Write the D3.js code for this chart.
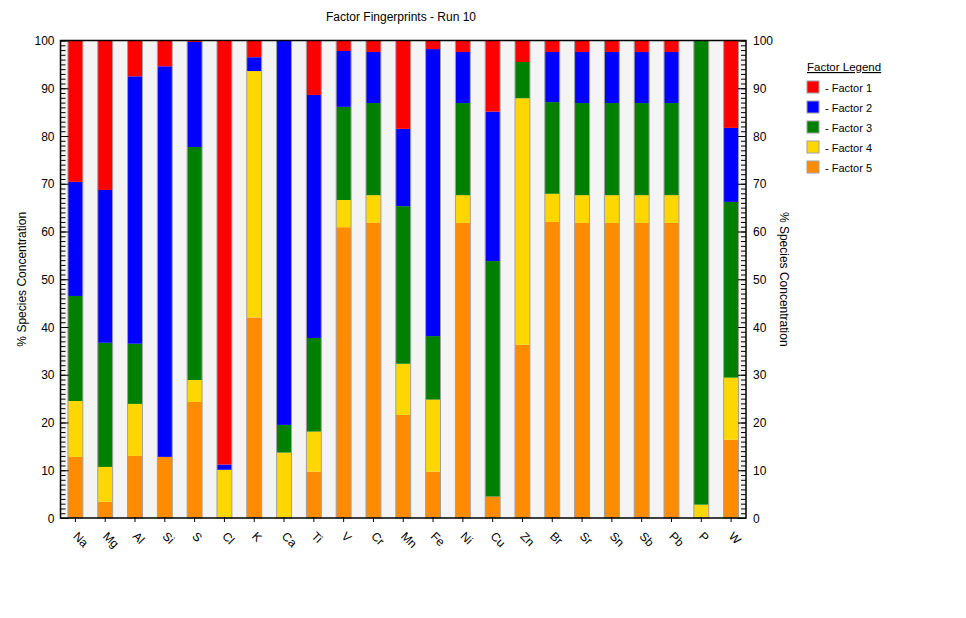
<!DOCTYPE html>
<html>
<head>
<meta charset="utf-8">
<script src="https://cdn.jsdelivr.net/npm/d3@7"></script>
<style>
  body { margin: 0; background: #fff; }
  text { font-family: "Liberation Sans", Arial, sans-serif; }
</style>
</head>
<body>
<svg id="chart"></svg>
<script>
// species along the x axis
var species = ["Na", "Mg", "Al", "Si", "S", "Cl", "K", "Ca", "Ti", "V", "Cr", "Mn", "Fe", "Ni", "Cu", "Zn", "Br", "Sr", "Sn", "Sb", "Pb", "P", "W"]
// % of species per factor
var factor1 = [29.6, 31.3, 7.5, 5.4, 0.3, 88.8, 3.5, 0, 11.4, 2.2, 2.4, 18.5, 1.8, 2.4, 14.9, 4.5, 2.4, 2.4, 2.4, 2.4, 2.4, 0, 18.3]
var factor2 = [23.9, 32.0, 56.0, 81.8, 22.0, 1.1, 2.9, 80.5, 50.9, 11.7, 10.7, 16.2, 60.1, 10.7, 31.3, 0, 10.5, 10.7, 10.7, 10.7, 10.7, 0, 15.5]
var factor3 = [22.0, 26.0, 12.6, 0, 48.8, 0, 0, 5.8, 19.6, 19.5, 19.3, 33.0, 13.3, 19.3, 49.3, 7.6, 19.2, 19.3, 19.3, 19.3, 19.3, 97.2, 36.8]
var factor4 = [11.7, 7.3, 10.9, 0, 4.6, 10.1, 51.6, 13.7, 8.4, 5.7, 5.8, 10.7, 15.1, 5.8, 0, 51.6, 5.9, 5.8, 5.8, 5.8, 5.8, 2.8, 13.0]
var factor5 = [12.8, 3.4, 13.0, 12.8, 24.3, 0, 42.0, 0, 9.7, 60.9, 61.8, 21.6, 9.7, 61.8, 4.5, 36.3, 62.0, 61.8, 61.8, 61.8, 61.8, 0, 16.4]
var factorNames = ["Factor 1", "Factor 2", "Factor 3", "Factor 4", "Factor 5"]
var factorColors = ["#ff0000", "#0000ff", "#008000", "#ffd700", "#ff8c00"]
var yTicks = [0, 10, 20, 30, 40, 50, 60, 70, 80, 90, 100]

var width = 966, height = 618
var plotLeft = 60.5, plotRight = 746, plotTop = 40.5, plotBottom = 518

var svg = d3.select("#chart").attr("width", width).attr("height", height)

// table for the stack, factor 5 at the bottom
var rows = species.map(function (s, i) {
    return { name: s, f5: factor5[i], f4: factor4[i], f3: factor3[i], f2: factor2[i], f1: factor1[i] }
})
var keys = ["f5", "f4", "f3", "f2", "f1"]
var keyColor = { f1: factorColors[0], f2: factorColors[1], f3: factorColors[2], f4: factorColors[3], f5: factorColors[4] }
var series = d3.stack().keys(keys)(rows)

var x = d3.scaleBand().domain(species).range([plotLeft, plotRight]).paddingInner(0.5).paddingOuter(0.25)
var y = d3.scaleLinear().domain([0, 100]).range([plotBottom, plotTop])

// plot background
svg.append("rect")
    .attr("x", plotLeft).attr("y", plotTop)
    .attr("width", plotRight - plotLeft).attr("height", plotBottom - plotTop)
    .attr("fill", "#f4f4f4")

// stacked segments
svg.append("g").selectAll("g")
    .data(series)
    .enter().append("g")
    .attr("fill", function (d) { return keyColor[d.key] })
    .selectAll("rect")
    .data(function (d) { return d })
    .enter().append("rect")
    .attr("x", function (d) { return x(d.data.name) })
    .attr("width", x.bandwidth())
    .attr("y", function (d) { return y(d[1]) })
    .attr("height", function (d) { return y(d[0]) - y(d[1]) })

// grey bar outlines
svg.append("g").selectAll("rect")
    .data(species)
    .enter().append("rect")
    .attr("x", function (d) { return x(d) })
    .attr("width", x.bandwidth())
    .attr("y", y(100))
    .attr("height", y(0) - y(100))
    .attr("fill", "none")
    .attr("stroke", "#a0a0a0")
    .attr("stroke-width", 1)

// minor ticks every 1 unit, inside the frame
var minor = d3.range(0, 101)
svg.append("g").attr("transform", "translate(" + plotLeft + ",0)")
    .call(d3.axisRight(y).tickValues(minor).tickSize(5).tickFormat(""))
svg.append("g").attr("transform", "translate(" + plotRight + ",0)")
    .call(d3.axisLeft(y).tickValues(minor).tickSize(5).tickFormat(""))
svg.append("g").attr("transform", "translate(" + plotLeft + ",0)")
    .call(d3.axisRight(y).tickValues(yTicks).tickSize(8).tickFormat(""))
svg.append("g").attr("transform", "translate(" + plotRight + ",0)")
    .call(d3.axisLeft(y).tickValues(yTicks).tickSize(8).tickFormat(""))
svg.selectAll(".domain").remove()
svg.selectAll(".tick line").attr("stroke", "#000")

// tick labels
svg.append("g").selectAll("text")
    .data(yTicks)
    .enter().append("text")
    .attr("x", plotLeft - 6).attr("y", function (d) { return y(d) + 4.5 })
    .attr("text-anchor", "end").attr("font-size", 12)
    .text(function (d) { return d })
svg.append("g").selectAll("text")
    .data(yTicks)
    .enter().append("text")
    .attr("x", plotRight + 7).attr("y", function (d) { return y(d) + 4.5 })
    .attr("text-anchor", "start").attr("font-size", 12)
    .text(function (d) { return d })

// x axis ticks and rotated labels
var gx = svg.append("g").attr("transform", "translate(0," + (plotBottom - 1) + ")")
    .call(d3.axisBottom(x).tickSize(5).tickSizeOuter(0).tickFormat(""))
gx.select(".domain").remove()
gx.selectAll(".tick line").attr("stroke", "#000")
svg.append("g").selectAll("text")
    .data(species)
    .enter().append("text")
    .attr("transform", function (d) {
        return "translate(" + (x(d) + x.bandwidth() / 2 - 3) + "," + (plotBottom + 19) + ") rotate(45)"
    })
    .attr("font-size", 12)
    .text(function (d) { return d })

// frame
svg.append("rect")
    .attr("x", plotLeft).attr("y", plotTop)
    .attr("width", plotRight - plotLeft).attr("height", plotBottom - plotTop)
    .attr("fill", "none").attr("stroke", "#000").attr("stroke-width", 1.5)

// title and axis titles
svg.append("text")
    .attr("x", 401).attr("y", 21)
    .attr("text-anchor", "middle").attr("font-size", 12)
    .text("Factor Fingerprints - Run 10")
svg.append("text")
    .attr("transform", "translate(26," + ((plotTop + plotBottom) / 2) + ") rotate(-90)")
    .attr("text-anchor", "middle").attr("font-size", 12)
    .text("% Species Concentration")
svg.append("text")
    .attr("transform", "translate(780," + ((plotTop + plotBottom) / 2) + ") rotate(90)")
    .attr("text-anchor", "middle").attr("font-size", 12)
    .text("% Species Concentration")

// legend
var legend = svg.append("g").attr("transform", "translate(807,0)")
legend.append("text")
    .attr("x", 0).attr("y", 71)
    .attr("font-size", 11.5)
    .attr("text-decoration", "underline")
    .text("Factor Legend")
var items = legend.selectAll(".item")
    .data(factorNames)
    .enter().append("g")
    .attr("class", "item")
    .attr("transform", function (d, i) { return "translate(0," + (81 + i * 20) + ")" })
items.append("rect")
    .attr("width", 12).attr("height", 12)
    .attr("fill", function (d, i) { return factorColors[i] })
    .attr("stroke", "#a0a0a0").attr("stroke-width", 1)
items.append("text")
    .attr("x", 18).attr("y", 10.5)
    .attr("font-size", 11)
    .text(function (d) { return "- " + d })
</script>
</body>
</html>
